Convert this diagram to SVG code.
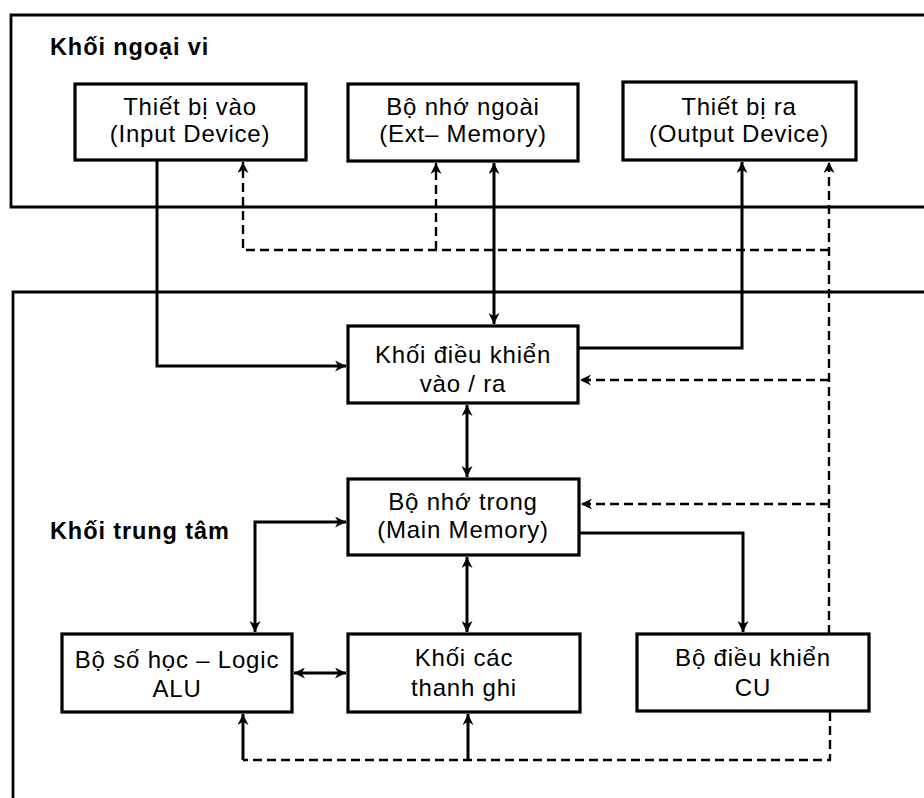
<svg xmlns="http://www.w3.org/2000/svg" width="924" height="798" viewBox="0 0 924 798">
<style>
.box{fill:#fff;stroke:#000;stroke-width:3.2}
.frame{fill:none;stroke:#000;stroke-width:2.8}
.t{font-family:"Liberation Sans",Arial,sans-serif;font-size:24px;fill:#000;text-anchor:middle;letter-spacing:0.8px}
.h{font-family:"Liberation Sans",Arial,sans-serif;font-size:23.5px;font-weight:bold;fill:#000;letter-spacing:0.9px}
.s{fill:none;stroke:#000;stroke-width:3}
.d{fill:none;stroke:#000;stroke-width:2.4;stroke-dasharray:9 5}
</style>
<defs>
<marker id="ah" viewBox="0 0 10 10" refX="10" refY="5" markerWidth="13" markerHeight="11" markerUnits="userSpaceOnUse" orient="auto-start-reverse">
<path d="M0,0 L10,5 L0,10 L3,5 Z" fill="#000"/>
</marker>
</defs>
<rect width="924" height="798" fill="#fff"/>
<g id="frames">
<path class="frame" d="M926,15 H11 V207 H926"/>
<path class="frame" d="M926,292 H13 V800"/>
<text class="h" x="50" y="55">Khối ngoại vi</text>
<text class="h" x="50" y="539">Khối trung tâm</text>
</g>
<g id="connectors">
<path class="s" d="M157,160 V366 H346" marker-end="url(#ah)"/>
<path class="s" d="M494,163 V324" marker-start="url(#ah)" marker-end="url(#ah)"/>
<path class="s" d="M579,348 H742 V162" marker-end="url(#ah)"/>
<path class="s" d="M467,405 V477" marker-start="url(#ah)" marker-end="url(#ah)"/>
<path class="s" d="M467,557 V632" marker-start="url(#ah)" marker-end="url(#ah)"/>
<path class="s" d="M580,533 H743 V632" marker-end="url(#ah)"/>
<path class="s" d="M346,522 H255 V632" marker-start="url(#ah)" marker-end="url(#ah)"/>
<path class="s" d="M294,673 H346" marker-start="url(#ah)" marker-end="url(#ah)"/>
<path class="d" d="M829,634 V162" marker-end="url(#ah)"/>
<path class="d" d="M829,250 H243 V162" marker-end="url(#ah)"/>
<path class="d" d="M436,250 V163" marker-end="url(#ah)"/>
<path class="d" d="M829,380 H580" marker-end="url(#ah)"/>
<path class="d" d="M829,504 H581" marker-end="url(#ah)"/>
<path class="d" d="M830,712 V760 H243"/>
<path class="s" d="M243,760 V714" marker-end="url(#ah)"/>
<path class="s" d="M468,760 V714" marker-end="url(#ah)"/>
</g>
<g id="input">
<rect class="box" x="75" y="84" width="231" height="76"/>
<text class="t" x="190" y="115">Thiết bị vào</text>
<text class="t" x="190" y="142">(Input Device)</text>
</g>
<g id="extmem">
<rect class="box" x="348" y="84" width="230" height="77"/>
<text class="t" x="463" y="115">Bộ nhớ ngoài</text>
<text class="t" x="463" y="142">(Ext– Memory)</text>
</g>
<g id="output">
<rect class="box" x="623" y="82" width="233" height="78"/>
<text class="t" x="739" y="115">Thiết bị ra</text>
<text class="t" x="739" y="142">(Output Device)</text>
</g>
<g id="io">
<rect class="box" x="348" y="326" width="230" height="77"/>
<text class="t" x="463" y="363">Khối điều khiển</text>
<text class="t" x="463" y="392">vào / ra</text>
</g>
<g id="mainmem">
<rect class="box" x="348" y="479" width="231" height="76"/>
<text class="t" x="463" y="510">Bộ nhớ trong</text>
<text class="t" x="463" y="538">(Main Memory)</text>
</g>
<g id="alu">
<rect class="box" x="62" y="634" width="230" height="78"/>
<text class="t" x="177" y="668">Bộ số học – Logic</text>
<text class="t" x="177" y="697">ALU</text>
</g>
<g id="registers">
<rect class="box" x="348" y="634" width="232" height="78"/>
<text class="t" x="464" y="666">Khối các</text>
<text class="t" x="464" y="696">thanh ghi</text>
</g>
<g id="cu">
<rect class="box" x="637" y="634" width="232" height="77"/>
<text class="t" x="753" y="666">Bộ điều khiển</text>
<text class="t" x="753" y="696">CU</text>
</g>
</svg>
